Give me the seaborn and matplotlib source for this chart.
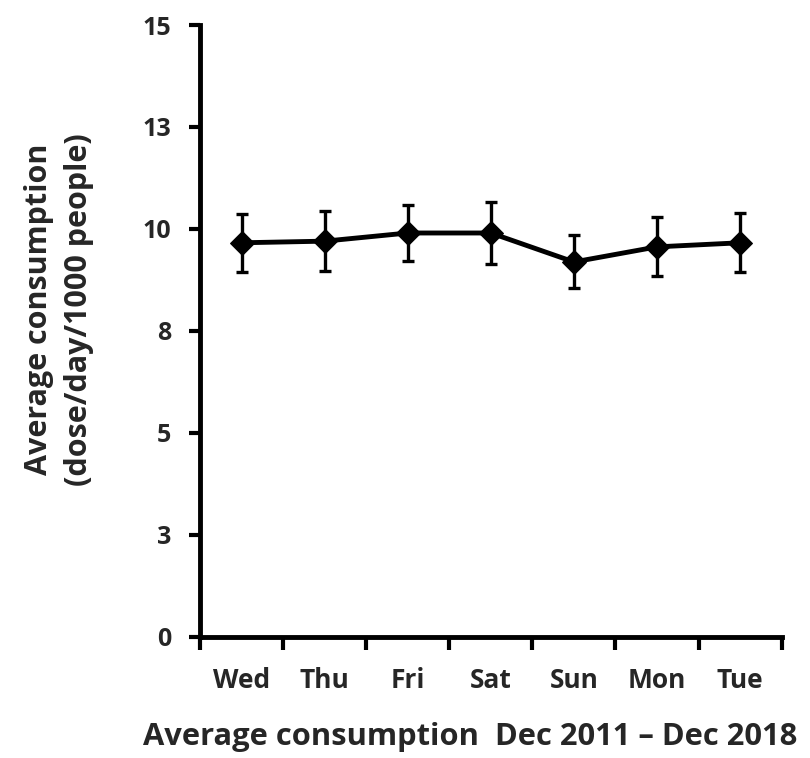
import numpy as np
import pandas as pd
import matplotlib
matplotlib.use("Agg")
import matplotlib.pyplot as plt
import seaborn as sns

days = ["Wed", "Thu", "Fri", "Sat", "Sun", "Mon", "Tue"]
mean_consumption = [9.66, 9.70, 9.90, 9.90, 9.19, 9.56, 9.66]
error_half = [0.71, 0.74, 0.69, 0.75, 0.65, 0.72, 0.72]
y_tick_values = [0, 2.5, 5, 7.5, 10, 12.5, 15]
y_tick_labels = ["0", "3", "5", "8", "10", "13", "15"]

sns.set_theme(style="white")
plt.rcParams["font.family"] = ["Open Sans", "DejaVu Sans"]
plt.rcParams["font.weight"] = "bold"

df = pd.DataFrame({"pos": np.arange(len(days)), "day": days,
                   "mean": mean_consumption, "err": error_half})

fig = plt.figure(figsize=(8.1, 7.58), dpi=100)
ax = fig.add_axes([0.247, 0.160, 0.718, 0.807])

ax.errorbar(df["pos"], df["mean"], yerr=df["err"], fmt="none",
            ecolor="black", elinewidth=2.4, capsize=4.5, capthick=2.4, zorder=2)
sns.lineplot(data=df, x="pos", y="mean", ax=ax, color="black", linewidth=3.5,
             marker="D", markersize=12, markeredgecolor="black", zorder=3)

ax.set_xlim(-0.5, len(days) - 0.5)
ax.set_ylim(0, 15)
ax.set_yticks(y_tick_values)
ax.set_yticklabels(y_tick_labels, fontsize=18, fontweight="bold")
ax.set_xticks(df["pos"])
ax.set_xticklabels(days, fontsize=19, fontweight="bold")
ax.set_xticks(np.arange(-0.5, len(days)), minor=True)
ax.tick_params(axis="x", which="both", bottom=True)
ax.tick_params(axis="y", which="major", left=True)
ax.tick_params(axis="x", which="major", length=0, pad=22)
ax.tick_params(axis="x", which="minor", length=9, width=3, direction="out", color="black")
ax.tick_params(axis="y", which="major", length=8, width=3, direction="out", color="black", pad=13)

for side in ["top", "right"]:
    ax.spines[side].set_visible(False)
for side in ["left", "bottom"]:
    ax.spines[side].set_linewidth(3.5)
    ax.spines[side].set_color("black")

ax.set_xlabel("Average consumption  Dec 2011 \u2013 Dec 2018", fontsize=22.2,
              fontweight="bold")
ax.xaxis.set_label_coords(0.465, -0.139)
ax.set_ylabel("Average consumption\n(dose/day/1000 people)", fontsize=22,
              fontweight="bold", linespacing=1.45)
ax.yaxis.set_label_coords(-0.182, 0.535)
ax.grid(False)

fig.savefig("out.png", dpi=100)
